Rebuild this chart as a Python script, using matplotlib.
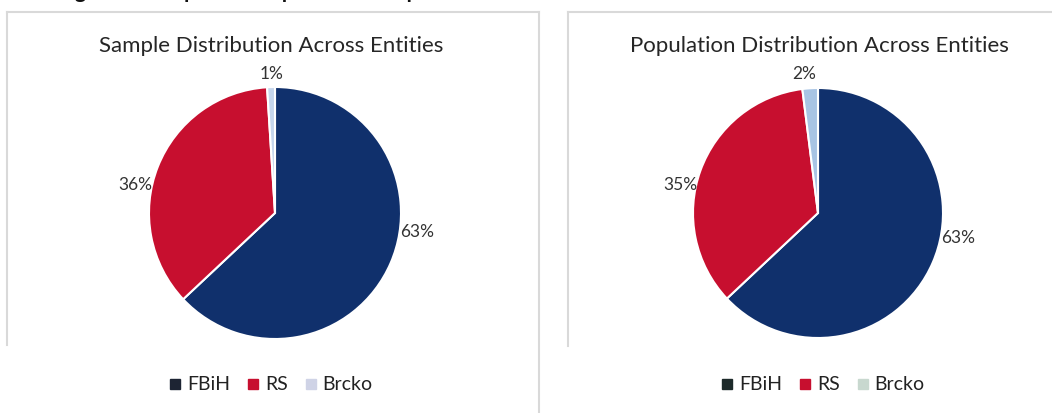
import matplotlib.pyplot as plt
from matplotlib.lines import Line2D

plt.rcParams['font.family'] = ['Lato', 'DejaVu Sans']

entities = ['FBiH', 'RS', 'Brcko']
sample_pct = [63, 36, 1]
population_pct = [63, 35, 2]
titles = ['Sample Distribution Across Entities',
          'Population Distribution Across Entities']
heading = 'Figure 2: Sample and Population Comparison'

colors_left = ['#10306c', '#c70f2f', '#c6d6ec']
colors_right = ['#10306c', '#c70f2f', '#a8c4e4']
legend_colors = [['#1d2433', '#c70f2f', '#cfd3e6'],
                 ['#1d2a2a', '#c70f2f', '#c8d8cf']]

# label anchor points, in units of pie radius from the centre
label_xy = [[(1.13, -0.15), (-1.11, 0.22), (-0.03, 1.10)],
            [(1.12, -0.20), (-1.10, 0.22), (-0.11, 1.11)]]

W, H = 1052, 413
fig = plt.figure(figsize=(W / 100, H / 100), dpi=100)

def fx(px):
    return px / W

def fy(py):
    return 1 - py / H

# panel frames
border = '#d9d9d9'
fig.add_artist(Line2D([fx(7), fx(539)], [fy(12), fy(12)], color=border, lw=1.5))
fig.add_artist(Line2D([fx(7), fx(7)], [fy(12), fy(345)], color=border, lw=1.5))
fig.add_artist(Line2D([fx(539), fx(539)], [fy(12), fy(413)], color=border, lw=1.5))
fig.add_artist(Line2D([fx(568), fx(1052)], [fy(12), fy(12)], color=border, lw=1.5))
fig.add_artist(Line2D([fx(568), fx(568)], [fy(12), fy(346)], color=border, lw=1.5))

# heading sits mostly above the top edge, only descenders show
fig.text(fx(58), fy(-2), heading, fontsize=15, fontweight='bold',
         va='baseline', ha='left', color='#111111')

centers = [(275, 213, 126), (818, 213, 125)]
data = [sample_pct, population_pct]
cols = [colors_left, colors_right]

for i, (cx, cy, r) in enumerate(centers):
    ax = fig.add_axes([fx(cx - r), fy(cy + r), fx(2 * r), 2 * r / H])
    wedges, _ = ax.pie(data[i], colors=cols[i], startangle=90,
                       counterclock=False, radius=1,
                       wedgeprops=dict(edgecolor='white', linewidth=1.5))
    ax.set_xlim(-1, 1)
    ax.set_ylim(-1, 1)
    ax.set_aspect('equal')
    for v, (lx, ly) in zip(data[i], label_xy[i]):
        ax.text(lx, ly, f'{v}%', ha='center', va='center', fontsize=12.5,
                color='#333333', clip_on=False)
    title_x = 271 if i == 0 else 819
    fig.text(fx(title_x), fy(46), titles[i],
             ha='center', va='center', fontsize=16, color='#262626')

    handles = [Line2D([], [], marker='s', ls='', color=c, markersize=7)
               for c in legend_colors[i]]
    legx = 270 if i == 0 else 822
    fig.legend(handles, entities, loc='center', bbox_to_anchor=(fx(legx), fy(385)),
               ncol=3, frameon=False, fontsize=14, handletextpad=0.2,
               columnspacing=0.8, handlelength=0.8, labelcolor='#222222')

fig.savefig('out.png', dpi=100)
